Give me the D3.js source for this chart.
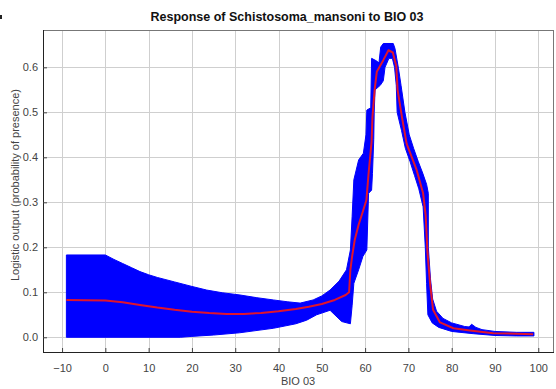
<!DOCTYPE html>
<html><head><meta charset="utf-8">
<script src="https://cdn.jsdelivr.net/npm/d3@7"></script>
<style>body{margin:0;background:#fff;}svg{display:block;font-family:"Liberation Sans",Arial,sans-serif;}</style>
</head><body><svg id="c" width="556" height="389"></svg>
<script>
const title = "Response of Schistosoma_mansoni to BIO 03";
const xLabel = "BIO 03";
const yLabel = "Logistic output (probability of presence)";
const xTicks = [-10,0,10,20,30,40,50,60,70,80,90,100];
const yTicks = [0,0.1,0.2,0.3,0.4,0.5,0.6];

const meanCurve = [[-9,0.083],[0,0.082],[4,0.078],[8,0.072],[12,0.066],[16,0.061],[20,0.057],[24,0.054],[28,0.052],[32,0.052],[36,0.054],[40,0.058],[44,0.063],[47,0.068],[50,0.074],[53,0.083],[55.5,0.094],[56.3,0.1],[56.6,0.15],[57,0.18],[57.6,0.216],[58.5,0.25],[59.5,0.28],[60.3,0.305],[60.8,0.364],[61.5,0.435],[61.7,0.49],[62.2,0.55],[62.7,0.59],[64.2,0.616],[65.4,0.638],[66.4,0.633],[67.2,0.603],[67.5,0.55],[68.5,0.49],[69.6,0.43],[71.9,0.372],[73.4,0.32],[74.0,0.27],[74.2,0.23],[74.4,0.19],[75,0.12],[75.7,0.061],[77.3,0.033],[80.4,0.02],[84.2,0.015],[89.6,0.009],[98.8,0.007]];

const bandUpper = [[-9,0.183],[0,0.183],[2,0.173],[4,0.164],[6,0.155],[8,0.146],[10,0.139],[12,0.133],[14,0.128],[16,0.123],[20,0.113],[23.4,0.105],[27,0.099],[31.1,0.094],[35,0.088],[38.8,0.083],[42,0.079],[45,0.076],[48,0.083],[50,0.092],[51.9,0.105],[54,0.125],[55.7,0.15],[56.6,0.194],[57,0.268],[57.4,0.35],[58.5,0.394],[59.6,0.409],[60.2,0.45],[60.4,0.505],[61.3,0.51],[61.5,0.62],[62.5,0.615],[63.2,0.61],[63.6,0.645],[64.2,0.653],[66.5,0.653],[66.9,0.642],[67.7,0.598],[68.3,0.56],[69.2,0.5],[70.2,0.45],[71.2,0.42],[72.3,0.39],[73.3,0.365],[74.2,0.34],[74.6,0.32],[74.6,0.2],[75.1,0.13],[75.6,0.085],[76.5,0.058],[78,0.042],[80,0.032],[83,0.024],[84,0.023],[84.6,0.029],[85.6,0.022],[87,0.017],[90,0.013],[95,0.011],[99,0.011]];

const bandLower = [[-9,0],[17.3,0],[20,0.002],[25,0.005],[31,0.01],[38.8,0.02],[44,0.03],[46.5,0.038],[48.8,0.05],[51.9,0.06],[54.6,0.035],[56.6,0.03],[57.0,0.07],[57.4,0.12],[58.5,0.15],[59.5,0.18],[60.4,0.194],[60.8,0.32],[61.5,0.327],[61.7,0.364],[62,0.44],[62.1,0.5],[62.3,0.55],[63.5,0.56],[64.2,0.57],[64.6,0.6],[65.5,0.62],[66.3,0.62],[66.8,0.6],[67.2,0.56],[67.4,0.5],[68.4,0.46],[69.3,0.42],[70.4,0.39],[71.4,0.36],[72.4,0.33],[73.4,0.29],[73.9,0.2],[74.2,0.12],[74.5,0.05],[75.5,0.032],[77,0.022],[80,0.013],[85,0.008],[90,0.004],[95,0.003],[99,0.003]];

const svg = d3.select("#c");
const L=43, R=553, T=30, B=352;
const x = d3.scaleLinear().domain([-14.4,103.4]).range([L,R]);
const y = d3.scaleLinear().domain([-0.0327,0.683]).range([B,T]);

// gridlines
const g = svg.append("g");
g.selectAll(".gx").data(xTicks).join("line")
  .attr("x1",d=>Math.round(x(d))+0.5).attr("x2",d=>Math.round(x(d))+0.5)
  .attr("y1",T).attr("y2",B).attr("stroke","#cfcfcf").attr("stroke-width",1);
g.selectAll(".gy").data(yTicks).join("line")
  .attr("y1",d=>Math.round(y(d))+0.5).attr("y2",d=>Math.round(y(d))+0.5)
  .attr("x1",L).attr("x2",R).attr("stroke","#cfcfcf").attr("stroke-width",1);

// band
const line = d3.line().x(d=>x(d[0])).y(d=>y(d[1]));
const poly = bandUpper.concat(bandLower.slice().reverse());
svg.append("path").attr("d", line(poly)+"Z").attr("fill","#0000ff").attr("stroke","#0000ff").attr("stroke-width",1);

// mean
svg.append("path").attr("d", line(meanCurve)).attr("fill","none")
  .attr("stroke","#e0142c").attr("stroke-width",2).attr("stroke-linejoin","round");

// frame
svg.append("rect").attr("x",L+0.5).attr("y",T+0.5).attr("width",R-L).attr("height",B-T)
  .attr("fill","none").attr("stroke","#777").attr("stroke-width",1);
svg.append("line").attr("x1",L+0.5).attr("x2",L+0.5).attr("y1",T).attr("y2",B+1).attr("stroke","#222");
svg.append("line").attr("x1",L).attr("x2",R+1).attr("y1",B+0.5).attr("y2",B+0.5).attr("stroke","#222");

// axes
const xAxis = d3.axisBottom(x).tickValues(xTicks).tickSize(-4).tickPadding(12).tickFormat(d3.format("d"));
const ax = svg.append("g").attr("transform",`translate(0,${B})`).call(xAxis);
const yAxis = d3.axisLeft(y).tickValues(yTicks).tickSize(-4).tickPadding(5).tickFormat(d3.format(".1f"));
const ay = svg.append("g").attr("transform",`translate(${L},0)`).call(yAxis);
[ax,ay].forEach(a=>{
  a.select(".domain").remove();
  a.selectAll(".tick line").attr("stroke","#444");
  a.selectAll(".tick text").attr("fill","#444").attr("font-size","11px").attr("font-family","Liberation Sans, Arial, sans-serif");
});

svg.append("text").attr("x",287).attr("y",21).attr("text-anchor","middle")
  .attr("font-weight","bold").attr("font-size","12.5px").attr("fill","#111").text(title);
svg.append("text").attr("x",(L+R)/2).attr("y",385).attr("text-anchor","middle")
  .attr("font-size","11px").attr("fill","#444").text(xLabel);
svg.append("text").attr("transform",`translate(19,185) rotate(-90)`).attr("text-anchor","middle")
  .attr("font-size","11px").attr("fill","#444").text(yLabel);
svg.append("rect").attr("x",0).attr("y",15).attr("width",2).attr("height",4).attr("fill","#222");
</script></body></html>
